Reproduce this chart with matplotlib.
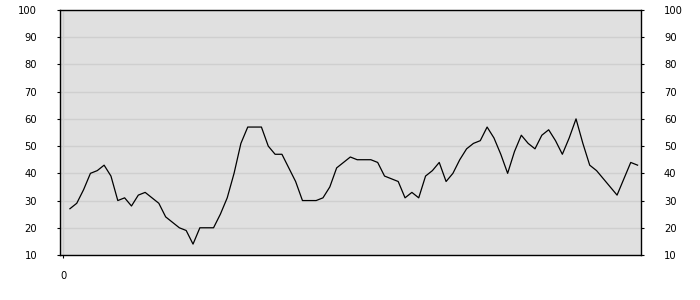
import matplotlib
matplotlib.use("Agg")
import matplotlib.pyplot as plt

# values, one per step
values = [27, 29, 34, 40, 41, 43, 39, 30, 31, 28, 32, 33, 31, 29, 24, 22, 20, 19, 14, 20,
          20, 20, 25, 31, 40, 51, 57, 57, 57, 50, 47, 47, 42, 37, 30, 30, 30, 31, 35, 42,
          44, 46, 45, 45, 45, 44, 39, 38, 37, 31, 33, 31, 39, 41, 44, 37, 40, 45, 49, 51,
          52, 57, 53, 47, 40, 48, 54, 51, 49, 54, 56, 52, 47, 53, 60, 51, 43, 41, 38, 35,
          32, 38, 44, 43]
steps = list(range(1, len(values) + 1))
y_ticks = [10, 20, 30, 40, 50, 60, 70, 80, 90, 100]
x_ticks = [0]

fig = plt.figure(figsize=(7, 3), dpi=100)
ax = fig.add_axes([60 / 700, 45 / 300, 581 / 700, 245 / 300])
ax.set_facecolor('#e0e0e0')

ax.plot(steps, values, color='black', linewidth=0.9)

ax.set_xlim(-0.45, 84.5)
ax.set_ylim(10, 100)
ax.set_yticks(y_ticks)
ax.set_xticks(x_ticks)
ax.grid(axis='y', color='#cfcfcf', linewidth=1)
ax.axvline(0, color='#cfcfcf', linewidth=1, zorder=0.5)
ax.set_axisbelow(True)

ax.tick_params(axis='y', which='both', left=True, right=True, labelleft=True,
               labelright=True, length=2.5, pad=14, labelsize=7.2, colors='black')
ax.tick_params(axis='x', length=2.5, pad=9, labelsize=7.2)

for s in ax.spines.values():
    s.set_color('black')
    s.set_linewidth(1)

plt.savefig('out.png', dpi=100)
